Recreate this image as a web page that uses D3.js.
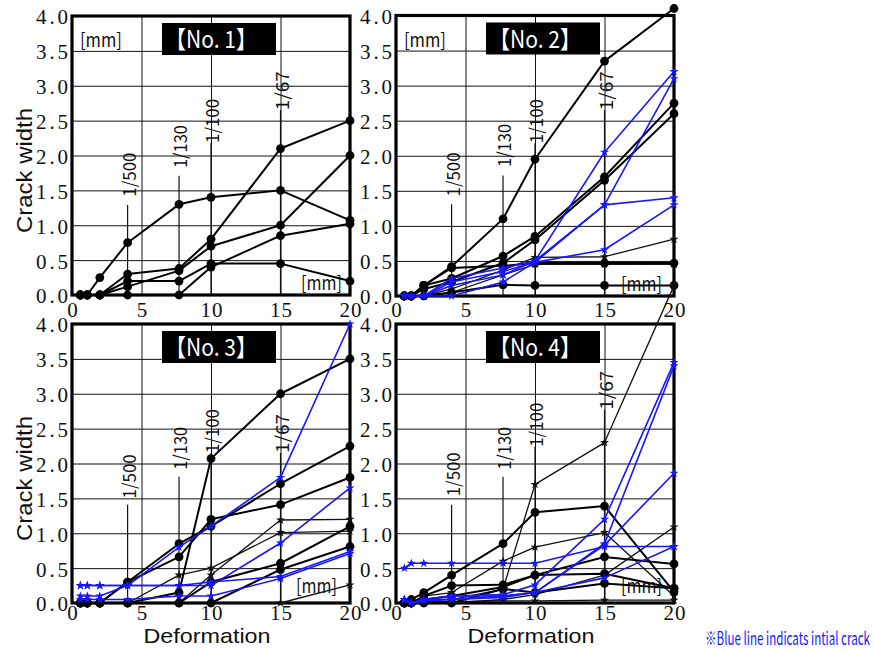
<!DOCTYPE html>
<html>
<head>
<meta charset="utf-8">
<script src="https://cdn.jsdelivr.net/npm/d3@7"></script>
<style>
  body { margin: 0; background: #fff; }
  svg { display: block; }
</style>
</head>
<body>
<svg id="chart" width="874" height="653"></svg>
<script>
// Deformation steps at which crack widths were measured [mm]
const deformation = [0.6, 1.1, 2, 4, 7.7, 10, 15, 20];

// Axis ticks
const xTicks = [0, 5, 10, 15, 20];
const xTickLabels = ["0", "5", "10", "15", "20"];
const yTicks = [0, 0.5, 1, 1.5, 2, 2.5, 3, 3.5, 4];
const yTickLabels = ["0.0", "0.5", "1.0", "1.5", "2.0", "2.5", "3.0", "3.5", "4.0"];

// Drift-ratio markers
const driftLabels = ["1/500", "1/130", "1/100", "1/67"];
const driftAt = [4, 7.7, 10, 15];

// No.1 — crack widths [mm]
const no1Dot = [
  [0, 0, 0.25, 0.75, 1.3, 1.4, 1.5, 1.07],
  [0, 0, 0, 0.3, 0.38, 0.8, 2.1, 2.5],
  [0, 0, 0, 0.12, 0.35, 0.7, 1.0, 2.0],
  [0, 0, 0, 0.2, 0.2, 0.45, 0.45, 0.2],
  [0, 0, 0, 0, 0, 0.4, 0.85, 1.02]
];
const no1Star = [];
const no1Blue = [];

// No.2
const no2Dot = [
  [0, 0, 0.15, 0.42, 1.1, 1.95, 3.35, 4.1],
  [0, 0, 0.15, 0.25, 0.57, 0.85, 1.7, 2.75],
  [0, 0, 0.1, 0.2, 0.47, 0.8, 1.65, 2.6],
  [0, 0, 0.15, 0.4, 0.43, 0.47, 0.47, 0.47],
  [0, 0, 0, 0.05, 0.16, 0.15, 0.15, 0.15]
];
const no2Star = [
  [0, 0, 0, 0.1, 0.37, 0.55, 0.56, 0.81],
  [0, 0, 0, 0.05, 0.3, 0.45, 0.45, 0.45]
];
const no2Blue = [
  [0, 0, 0, 0.25, 0.4, 0.5, 2.05, 3.2],
  [0, 0, 0, 0.2, 0.35, 0.48, 1.3, 3.1],
  [0, 0, 0, 0.15, 0.3, 0.5, 1.3, 1.4],
  [0, 0, 0, 0, 0.2, 0.48, 0.66, 1.3]
];

// No.3
const no3Dot = [
  [0, 0, 0, 0, 0.15, 2.07, 3.0, 3.5],
  [0, 0, 0, 0.3, 0.85, 1.1, 1.71, 2.25],
  [0, 0, 0, 0.3, 0.66, 1.2, 1.41, 1.8],
  [0, 0, 0, 0, 0, 0.3, 0.57, 1.1],
  [0, 0, 0, 0, 0, 0, 0.48, 0.81]
];
const no3Star = [
  [0, 0, 0, 0, 0, 0.4, 1.19, 1.2],
  [0, 0, 0, 0, 0.4, 0.5, 1.01, 1.03],
  [0, 0, 0, 0, 0, 0, 0, 0.26]
];
const no3Blue = [
  [0.1, 0.1, 0.1, 0.25, 0.8, 1.1, 1.8, 4.0],
  [0.25, 0.25, 0.25, 0.25, 0.25, 0.25, 0.86, 1.65],
  [0.25, 0.25, 0.25, 0.25, 0.25, 0.3, 0.38, 0.74],
  [0.05, 0.05, 0.05, 0.05, 0.1, 0.1, 0.35, 0.71]
];

// No.4
const no4Dot = [
  [0, 0.05, 0.15, 0.4, 0.85, 1.3, 1.39, 0.16],
  [0, 0, 0.1, 0.25, 0.26, 0.4, 0.66, 0.56],
  [0, 0, 0.05, 0.1, 0.23, 0.4, 0.42, 0.21],
  [0, 0, 0, 0, 0.2, 0.15, 0.28, 0.21]
];
const no4Star = [
  [0, 0, 0.05, 0.05, 0.2, 1.7, 2.3, 4.55],
  [0, 0, 0.1, 0.15, 0.6, 0.8, 1.01, 0.1],
  [0, 0, 0, 0, 0.05, 0.12, 0.4, 1.09],
  [0.02, 0.02, 0.02, 0.02, 0.03, 0.03, 0.04, 0.04]
];
const no4Blue = [
  [0.05, 0, 0.05, 0.1, 0.12, 0.26, 1.2, 3.45],
  [0.05, 0, 0.05, 0.1, 0.1, 0.15, 0.85, 3.4],
  [0.05, 0, 0.05, 0.05, 0.1, 0.15, 0.83, 1.86],
  [0.5, 0.57, 0.57, 0.57, 0.57, 0.57, 0.81, 0.81],
  [0.05, 0, 0.03, 0.05, 0.08, 0.15, 0.36, 0.81]
];

const BLUE = "#1717ff";
const SANS = "'Noto Sans CJK JP', 'Noto Sans', sans-serif";
const ARIAL = "'Liberation Sans', Arial, sans-serif";
const SERIF = "'Liberation Serif', 'DejaVu Serif', serif";

const panels = [
  { title: "【No. 1】", dot: no1Dot, star: no1Star, blue: no1Blue,
    x0: 72, x1: 350, y0: 16, y1: 295, left: true, bottom: false, topUnit: true, tickDy: 22,
    labelFrom: [1.41, 1.82, 2.18, 2.65], lineTo: [1.29, 1.71, 2.18, 2.65], unitDx: 8, unitDy: 5 },
  { title: "【No. 2】", dot: no2Dot, star: no2Star, blue: no2Blue,
    x0: 396, x1: 674, y0: 15.5, y1: 296, left: false, bottom: false, topUnit: true, tickDy: 21,
    labelFrom: [1.42, 1.84, 2.18, 2.65], lineTo: [1.31, 1.72, 2.18, 2.65], unitDx: 12, unitDy: 5 },
  { title: "【No. 3】", dot: no3Dot, star: no3Star, blue: no3Blue,
    x0: 72, x1: 350, y0: 324, y1: 603, left: true, bottom: true, topUnit: false, tickDy: 17,
    labelFrom: [1.5, 1.91, 2.15, 2.15], lineTo: [1.41, 1.81, 2.15, 2.15], unitDx: 13, unitDy: 10 },
  { title: "【No. 4】", dot: no4Dot, star: no4Star, blue: no4Blue,
    x0: 396, x1: 674, y0: 324, y1: 603, left: false, bottom: true, topUnit: false, tickDy: 17,
    labelFrom: [1.53, 1.91, 2.24, 2.77], lineTo: [1.41, 1.81, 2.24, 2.77], unitDx: 12, unitDy: 10 }
];

const svg = d3.select("#chart");
const layers = panels.map(() => svg.append("g"));
const seriesLayer = svg.append("g");
const topLayer = svg.append("g");

panels.forEach((p, pi) => {
  const g = layers[pi];
  const x = d3.scaleLinear().domain([0, 20]).range([p.x0, p.x1]);
  const y = d3.scaleLinear().domain([0, 4]).range([p.y1, p.y0]);
  const w = p.x1 - p.x0, h = p.y1 - p.y0;

  g.append("rect").attr("x", p.x0).attr("y", p.y0).attr("width", w).attr("height", h).attr("fill", "#fff");

  // grid lines
  const gx = g.append("g").attr("transform", `translate(0,${p.y1})`)
    .call(d3.axisBottom(x).tickValues([5, 10, 15]).tickSize(-h).tickFormat(""));
  const gy = g.append("g").attr("transform", `translate(${p.x0},0)`)
    .call(d3.axisLeft(y).tickValues(yTicks.slice(1, -1)).tickSize(-w).tickFormat(""));
  [gx, gy].forEach(a => {
    a.select(".domain").remove();
    a.selectAll(".tick line").attr("stroke", "#111").attr("stroke-width", 1);
  });

  // tick labels
  const ax = g.append("g").attr("transform", `translate(0,${p.y1})`)
    .call(d3.axisBottom(x).tickValues(xTicks).tickSize(0).tickPadding(0)
      .tickFormat((d, i) => xTickLabels[i]));
  ax.select(".domain").remove();
  ax.selectAll("text")
    .attr("dy", null)
    .attr("y", p.tickDy)
    .attr("font-family", SERIF).attr("font-size", 21).attr("fill", "#111")
    .attr("textLength", (d, i) => xTickLabels[i].length > 1 ? 22 : null)
    .attr("lengthAdjust", "spacing");

  const ay = g.append("g").attr("transform", `translate(${p.x0},0)`)
    .call(d3.axisLeft(y).tickValues(yTicks).tickSize(0).tickPadding(4)
      .tickFormat((d, i) => yTickLabels[i]));
  ay.select(".domain").remove();
  ay.selectAll("text")
    .attr("dy", "0.38em")
    .attr("font-family", SERIF).attr("font-size", 21).attr("fill", "#111")
    .attr("textLength", 32).attr("lengthAdjust", "spacing");

  // frame
  g.append("rect").attr("x", p.x0).attr("y", p.y0).attr("width", w).attr("height", h)
    .attr("fill", "none").attr("stroke", "#000").attr("stroke-width", 3.2);

  // drift-ratio markers
  const textLens = [44, 43, 44, 39];
  driftLabels.forEach((lab, i) => {
    g.append("line")
      .attr("x1", x(driftAt[i])).attr("x2", x(driftAt[i]))
      .attr("y1", y(0)).attr("y2", y(p.lineTo[i]))
      .attr("stroke", "#111").attr("stroke-width", 1.2);
    g.append("text")
      .attr("transform", `translate(${x(driftAt[i])},${y(p.labelFrom[i])}) rotate(-90)`)
      .attr("dominant-baseline", "central")
      .attr("font-family", SANS).attr("font-size", 18).attr("fill", "#111")
      .attr("textLength", textLens[i]).attr("lengthAdjust", "spacingAndGlyphs")
      .text(lab);
  });

  // unit labels
  if (p.topUnit) {
    g.append("text").attr("x", p.x0 + 8).attr("y", p.y0 + 31)
      .attr("font-family", SANS).attr("font-size", 19).attr("fill", "#111")
      .attr("textLength", 42).attr("lengthAdjust", "spacingAndGlyphs").text("[mm]");
  }
  g.append("text").attr("x", p.x1 - p.unitDx).attr("y", p.y1 - p.unitDy)
    .attr("text-anchor", "end")
    .attr("font-family", SANS).attr("font-size", 19).attr("fill", "#111")
    .attr("textLength", 41).attr("lengthAdjust", "spacingAndGlyphs").text("[mm]");

  // axis titles
  if (p.left) {
    const cy = (p.y0 + p.y1) / 2 + 15;
    g.append("text")
      .attr("transform", `translate(24,${cy}) rotate(-90)`)
      .attr("text-anchor", "middle").attr("dominant-baseline", "central")
      .attr("font-family", ARIAL).attr("font-size", 22).attr("fill", "#111")
      .attr("textLength", 125).attr("lengthAdjust", "spacingAndGlyphs")
      .text("Crack width");
  }
  if (p.bottom) {
    g.append("text")
      .attr("x", (p.x0 + p.x1) / 2 - 4).attr("y", 643)
      .attr("text-anchor", "middle")
      .attr("font-family", ARIAL).attr("font-size", 21).attr("fill", "#111")
      .attr("textLength", 127).attr("lengthAdjust", "spacingAndGlyphs")
      .text("Deformation");
  }

  // series
  const sg = seriesLayer.append("g");
  const line = d3.line()
    .defined(d => d != null)
    .x((d, i) => x(deformation[i]))
    .y(d => y(d));
  const star = d3.symbol().type(d3.symbolStar).size(26);
  const draw = (arr, color, width, marker) => {
    arr.forEach(vals => {
      const s = sg.append("g");
      s.append("path").attr("d", line(vals)).attr("fill", "none")
        .attr("stroke", color).attr("stroke-width", width).attr("stroke-linejoin", "round");
      vals.forEach((v, i) => {
        if (v == null) return;
        if (marker === "dot") {
          s.append("circle").attr("cx", x(deformation[i])).attr("cy", y(v)).attr("r", 4.4).attr("fill", color);
        } else {
          s.append("path").attr("d", star())
            .attr("transform", `translate(${x(deformation[i])},${y(v)})`).attr("fill", color);
        }
      });
    });
  };
  draw(p.star, "#111", 1.3, "star");
  draw(p.dot, "#000", 2, "dot");
  draw(p.blue, BLUE, 1.6, "star");

  // panel title tag
  const tx = p.x0 + 90, ty = p.y0 + 7;
  topLayer.append("rect").attr("x", tx).attr("y", ty).attr("width", 114).attr("height", 32).attr("fill", "#000");
  topLayer.append("text").attr("x", tx + 3).attr("y", ty + 25)
    .attr("font-family", SANS).attr("font-size", 24).attr("fill", "#fff")
    .attr("textLength", 92).attr("lengthAdjust", "spacingAndGlyphs")
    .text(p.title);
});

// footnote (condensed lettering)
svg.append("text")
  .attr("transform", "translate(705,645) scale(0.66,1)")
  .attr("font-family", SANS).attr("font-size", 18).attr("fill", BLUE)
  .attr("textLength", 250).attr("lengthAdjust", "spacingAndGlyphs")
  .text("※Blue line indicats intial crack");
</script>
</body>
</html>
